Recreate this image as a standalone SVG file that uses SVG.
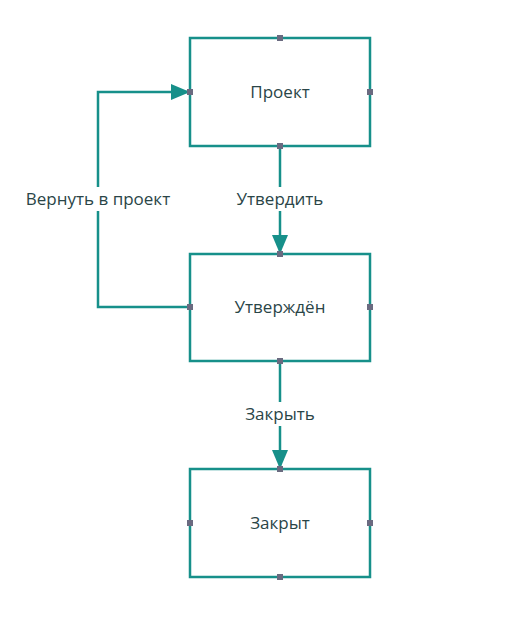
<svg xmlns="http://www.w3.org/2000/svg" width="521" height="617" viewBox="0 0 521 617">
<defs>
<style>
.box{fill:#ffffff;stroke:#17908a;stroke-width:2.5}
.edge{fill:none;stroke:#17908a;stroke-width:2.5}
.port{fill:#6a6a80}
.t{font-family:"Open Sans","Noto Sans","Liberation Sans",sans-serif;font-size:17px;fill:#2a4547;text-anchor:middle}
.lblbg{fill:#ffffff}
</style>
<marker id="arr" viewBox="0 0 19 16" refX="19" refY="8" markerWidth="19" markerHeight="16" markerUnits="userSpaceOnUse" orient="auto">
<path d="M0,0 L19,8 L0,16 Z" fill="#17908a"/>
</marker>
</defs>
<rect width="521" height="617" fill="#ffffff"/>
<g id="connectors">
<path class="edge" d="M280,146 L280,254" marker-end="url(#arr)"/>
<path class="edge" d="M280,361 L280,469" marker-end="url(#arr)"/>
<path class="edge" d="M190,307 L98,307 L98,92 L190,92" marker-end="url(#arr)"/>
<rect class="lblbg" x="230" y="187" width="100" height="24"/>
<text class="t" x="280" y="205">Утвердить</text>
<rect class="lblbg" x="236" y="402" width="88" height="24"/>
<text class="t" x="280" y="420">Закрыть</text>
<rect class="lblbg" x="20" y="187" width="156" height="24"/>
<text class="t" x="98" y="205">Вернуть в проект</text>
</g>
<g id="node-proekt">
<rect class="box" x="190" y="38" width="180" height="108"/>
<text class="t" x="280" y="98">Проект</text>
<rect class="port" x="277" y="35" width="6" height="6"/>
<rect class="port" x="277" y="143" width="6" height="6"/>
<rect class="port" x="187" y="89" width="6" height="6"/>
<rect class="port" x="367" y="89" width="6" height="6"/>
</g>
<g id="node-utverzhden">
<rect class="box" x="190" y="254" width="180" height="107"/>
<text class="t" x="280" y="313">Утверждён</text>
<rect class="port" x="277" y="251" width="6" height="6"/>
<rect class="port" x="277" y="358" width="6" height="6"/>
<rect class="port" x="187" y="304" width="6" height="6"/>
<rect class="port" x="367" y="304" width="6" height="6"/>
</g>
<g id="node-zakryt">
<rect class="box" x="190" y="469" width="180" height="108"/>
<text class="t" x="280" y="529">Закрыт</text>
<rect class="port" x="277" y="466" width="6" height="6"/>
<rect class="port" x="277" y="574" width="6" height="6"/>
<rect class="port" x="187" y="520" width="6" height="6"/>
<rect class="port" x="367" y="520" width="6" height="6"/>
</g>
</svg>
